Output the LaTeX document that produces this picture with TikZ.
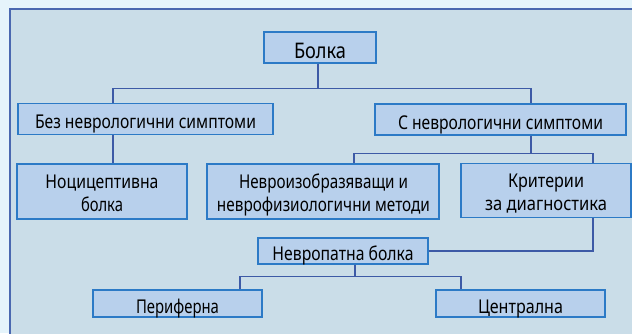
\documentclass[tikz,border=0pt]{standalone}
\usepackage{fontspec}
\setmainfont{Noto Sans}[Script=Cyrillic,Language=Bulgarian]
\usepackage{graphicx}
\definecolor{outerbg}{HTML}{E5F4FB}
\definecolor{panelbg}{HTML}{CADDE8}
\definecolor{panelline}{HTML}{4A68B0}
\definecolor{boxfill}{HTML}{B8D0EC}
\definecolor{boxline}{HTML}{2C7AC6}
\definecolor{connline}{HTML}{3D5AA6}
\newcommand\fitw[2]{\resizebox{#1pt}{\height}{#2}}
\tikzset{
  box/.style={draw=boxline, fill=boxfill, line width=1.3pt, rectangle, inner sep=0pt,
    text height=19pt, text depth=0pt, font=\fontsize{19}{24}\selectfont},
  txt/.style={anchor=base, inner sep=0pt, font=\fontsize{19}{24}\selectfont},
  conn/.style={draw=connline, line width=1.3pt},
}
\begin{document}
\begin{tikzpicture}[x=1pt,y=-1pt]
\useasboundingbox (0,0) rectangle (632,333);
\clip (0,0) rectangle (632,333);
\fill[outerbg] (0,0) rectangle (632,333);
\draw[panelline, fill=panelbg, line width=1.3pt] (10,9) rectangle (645,345);

% boxes
\node[box, minimum width=112pt, minimum height=31pt, font=\fontsize{21.5}{24}\selectfont, text height=21pt] (bolka) at (320,47.5) {\fitw{52}{Болка}};
\node[box, minimum width=255pt, minimum height=31pt] (bez) at (145.5,119) {\fitw{221}{Без неврологични симптоми}};
\node[box, minimum width=251pt, minimum height=31pt] (s) at (500.5,119.5) {\fitw{205}{С неврологични симптоми}};
\node[box, minimum width=170pt, minimum height=55pt] (noci) at (102,191.5) {};
\node[box, minimum width=232pt, minimum height=55pt] (nevroiz) at (323,191.5) {};
\node[box, minimum width=170pt, minimum height=54pt] (krit) at (546,190.5) {};
\node[box, minimum width=170pt, minimum height=26pt] (nevropat) at (343,251) {\fitw{141}{Невропатна болка}};
\node[box, minimum width=169pt, minimum height=27pt] (perif) at (177.5,303.5) {\fitw{83}{Периферна}};
\node[box, minimum width=169pt, minimum height=27pt] (centr) at (520.5,303.5) {\fitw{85}{Централна}};

% two-line texts
\node[txt] (noci1) at (102,188.3) {\fitw{113}{Ноцицептивна}};
\node[txt] (noci2) at (102,211.7) {\fitw{42}{болка}};
\node[txt] (nevroiz1) at (323.5,188.3) {\fitw{169}{Невроизобразяващи и}};
\node[txt] (nevroiz2) at (323.5,211.7) {\fitw{213}{неврофизиологични методи}};
\node[txt] (krit1) at (546,187.3) {\fitw{76}{Критерии}};
\node[txt] (krit2) at (546,210.7) {\fitw{122}{за диагностика}};

% connectors
\draw[conn] ([xshift=-2pt]bolka.south) -- ++(0,25) coordinate (j1);
\draw[conn] ([xshift=-32.5pt]bez.north) |- (j1) -| ([xshift=30.5pt]s.north);
\draw[conn] ([xshift=-32.5pt]bez.south) -- ([xshift=-32.5pt]bez.south |- noci.north);
\draw[conn] ([xshift=30.5pt]s.south) -- ++(0,17.5) coordinate (j2);
\draw[conn] ([xshift=31pt]nevroiz.north) |- (j2) -| ([xshift=47pt]krit.north);
\draw[conn] ([xshift=47pt]krit.south) |- (nevropat.east);
\draw[conn] ([xshift=12pt]nevropat.south) -- ++(0,12) coordinate (j3);
\draw[conn] ([xshift=62.5pt]perif.north) |- (j3) -| ([xshift=-59.5pt]centr.north);
\end{tikzpicture}
\end{document}
